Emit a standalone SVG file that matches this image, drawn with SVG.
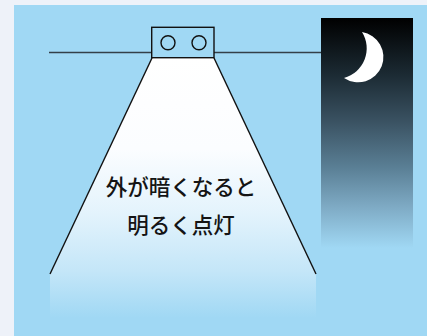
<svg xmlns="http://www.w3.org/2000/svg" width="427" height="336" viewBox="0 0 427 336">
  <defs>
    <linearGradient id="beamFill" x1="0" y1="58" x2="0" y2="318" gradientUnits="userSpaceOnUse">
      <stop offset="0" stop-color="#ffffff"/>
      <stop offset="0.35" stop-color="#fbfdff"/>
      <stop offset="0.6" stop-color="#e3f3fc"/>
      <stop offset="0.82" stop-color="#c4e6f8"/>
      <stop offset="1" stop-color="#a0d8f4"/>
    </linearGradient>
    <linearGradient id="nightSky" x1="0" y1="18" x2="0" y2="248" gradientUnits="userSpaceOnUse">
      <stop offset="0" stop-color="#000000"/>
      <stop offset="0.25" stop-color="#1c2b34"/>
      <stop offset="0.45" stop-color="#3a5262"/>
      <stop offset="0.65" stop-color="#5a7f95"/>
      <stop offset="0.82" stop-color="#7eaac4"/>
      <stop offset="1" stop-color="#a0d8f4"/>
    </linearGradient>
    <style>
      .wire { stroke: #333f48; stroke-width: 1.6; fill: none; }
      .edge { stroke: #111111; stroke-width: 1.4; fill: none; }
      .caption { font-family: "Noto Sans CJK JP", "Noto Sans", sans-serif; font-size: 21.5px; font-weight: 500; fill: #141414; text-anchor: middle; }
    </style>
  </defs>

  <!-- page and sky panel -->
  <rect x="0" y="0" width="427" height="336" fill="#eef2f9"/>
  <rect x="14" y="5" width="413" height="331" fill="#a0d8f4"/>

  <!-- night sky with crescent moon -->
  <g id="night">
    <rect x="321" y="18" width="92" height="230" fill="url(#nightSky)"/>
    <path d="M362,32 A25.3,25.3 0 1,1 344,78 A30.7,30.7 0 0,0 362,32 Z" fill="#ffffff"/>
  </g>

  <!-- light beam -->
  <g id="beam">
    <polygon points="152,58 214,58 316,274 316,320 50,320 50,274" fill="url(#beamFill)"/>
    <line class="edge" x1="152" y1="58" x2="50" y2="274"/>
    <line class="edge" x1="214" y1="58" x2="316" y2="274"/>
  </g>

  <!-- supply wire -->
  <g id="wires">
    <line class="wire" x1="49" y1="52.5" x2="152" y2="52.5"/>
    <line class="wire" x1="214" y1="52.5" x2="321" y2="52.5"/>
  </g>

  <!-- lamp with sensor -->
  <g id="lamp">
    <rect x="151.7" y="27.3" width="62.3" height="30.4" fill="#a0d8f4" stroke="#111111" stroke-width="1.4"/>
    <circle cx="168" cy="42.7" r="7" fill="none" stroke="#111111" stroke-width="1.4"/>
    <circle cx="199" cy="42.7" r="7" fill="none" stroke="#111111" stroke-width="1.4"/>
  </g>

  <!-- caption -->
  <g id="label">
    <text class="caption" x="181" y="195">外が暗くなると</text>
    <text class="caption" x="181" y="233">明るく点灯</text>
  </g>
</svg>
